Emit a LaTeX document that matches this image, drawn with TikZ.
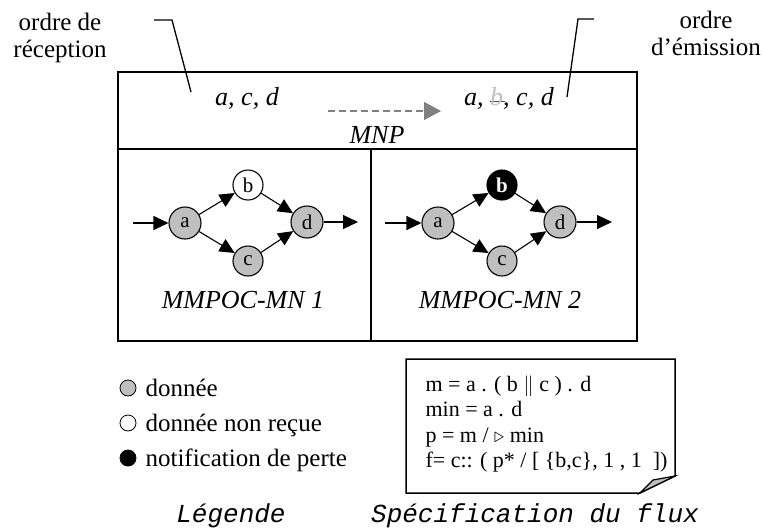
\documentclass[tikz,border=0pt]{standalone}
\usepackage{fontspec}
\setmainfont{Liberation Serif}
\setmonofont{Liberation Mono}
\usepackage{xcolor}
\usepackage{tikz}
\usetikzlibrary{
    arrows.meta,
    positioning
}

\newcommand{\lostb}{%
    \rlap{\textcolor{black!70}{\rule[0.3ex]{0.55em}{0.8pt}}}%
    \textcolor{gray!50}{b}}

\begin{document}
\begin{tikzpicture}[
    x=1pt,
    y=-1pt,
    >={Triangle[length=15pt,width=14pt]},
    line width=1.1pt,
    place/.style={
        circle,
        draw=black,
        fill=black!25,
        inner sep=0pt,
        minimum size=32pt,
        font=\fontsize{21}{21}\selectfont
    },
    legdot/.style={
        circle,
        draw=black,
        line width=0.8pt,
        inner sep=0pt,
        minimum size=16pt
    },
    bigtext/.style={
        font=\fontsize{25}{27}\selectfont,
        align=center,
        inner sep=0pt
    },
    seqtext/.style={
        font=\fontsize{26}{28}\selectfont\itshape,
        inner sep=0pt
    },
    captext/.style={
        font=\fontsize{26}{28}\ttfamily\itshape,
        inner sep=0pt
    },
    spectext/.style={
        font=\fontsize{22}{25.5}\selectfont,
        align=left,
        inner sep=0pt
    },
    frame/.style={
        line width=1.5pt
    }
]

\useasboundingbox (0,0) rectangle (764,528);

% ============================================================
% TOP LABELS
% ============================================================

\node[bigtext, anchor=north] (rcvlab) at (60,13) {ordre de\\réception};
\node[bigtext, anchor=north] (emilab) at (706,11) {ordre\\d'émission};

\coordinate (rl1) at (154,20);
\coordinate (rl2) at (172,20);
\coordinate (rl3) at (191,92);
\draw[line width=1.3pt] (rl1) -- (rl2) -- (rl3);

\coordinate (el1) at (594,19);
\coordinate (el2) at (578,19);
\coordinate (el3) at (567,97);
\draw[line width=1.3pt] (el1) -- (el2) -- (el3);

% ============================================================
% MNP BOX
% ============================================================

\draw[frame] (118,72) rectangle (637,341);
\draw[frame] (118,149) -- (637,149);
\draw[frame] (371,149) -- (371,341);

\node[seqtext, anchor=base] (recv) at (247,105) {a, c, d};
\node[seqtext, anchor=base] (emit) at (509,105) {a, \lostb, c, d};

\coordinate (mv1) at (328,111);
\coordinate (mv2) at (441,111);
\draw[
    ->,
    >={Triangle[length=17pt,width=18pt]},
    black!50,
    line width=1.4pt,
    dash pattern=on 7pt off 4pt
]
    (mv1) -- (mv2);

\node[seqtext, anchor=base] (mnp) at (377,143) {MNP};

% ============================================================
% MMPOC-MN 1
% ============================================================

\node[place] (a1) at (185,223) {a};
\node[place, fill=white, minimum size=30pt] (b1) at (248,185) {b};
\node[place, minimum size=30pt] (c1) at (248,261) {c};
\node[place] (d1) at (307,222) {d};

\coordinate (in1) at (133,223);
\coordinate (out1) at (358,222);

\draw[->] (in1) -- (a1);
\draw[->] (a1) -- (b1);
\draw[->] (a1) -- (c1);
\draw[->] (b1) -- (d1);
\draw[->] (c1) -- (d1);
\draw[->] (d1) -- (out1);

\node[seqtext, anchor=base] (mn1) at (243,308) {MMPOC-MN 1};

% ============================================================
% MMPOC-MN 2
% ============================================================

\node[place] (a2) at (438,223) {a};
\node[
    place,
    fill=black,
    text=white,
    minimum size=30pt,
    font=\fontsize{21}{21}\selectfont\bfseries
] (b2) at (502,185) {b};
\node[place, minimum size=30pt] (c2) at (502,261) {c};
\node[place] (d2) at (560,222) {d};

\coordinate (in2) at (385,223);
\coordinate (out2) at (612,222);

\draw[->] (in2) -- (a2);
\draw[->] (a2) -- (b2);
\draw[->] (a2) -- (c2);
\draw[->] (b2) -- (d2);
\draw[->] (c2) -- (d2);
\draw[->] (d2) -- (out2);

\node[seqtext, anchor=base] (mn2) at (500,308) {MMPOC-MN 2};

% ============================================================
% LEGEND
% ============================================================

\node[legdot, fill=black!25] (k1) at (128,388) {};
\node[legdot, fill=white] (k2) at (128,423) {};
\node[legdot, fill=black] (k3) at (128,458) {};

\node[bigtext, anchor=base west] (k1lab) at (145,396) {donnée};
\node[bigtext, anchor=base west] (k2lab) at (145,431) {donnée non reçue};
\node[bigtext, anchor=base west] (k3lab) at (145,466) {notification de perte};

\node[captext, anchor=base] (legcap) at (231,522) {Légende};

% ============================================================
% FLOW SPECIFICATION
% ============================================================

\draw[line width=1.5pt, fill=white]
    (406,359) -- (675,359) -- (675,476) -- (640,493) -- (406,493) -- cycle;
\draw[line width=1.2pt, fill=black!25]
    (640,493) -- (653,480) -- (675,476) -- cycle;

\node[spectext, anchor=north west] (spec) at (425,375)
{
m = a . ( b $\|$ c ) . d\\
min = a . d\\
p = m / $\triangleright$ min\\
f= c:: ( p* / [ \{b,c\}, 1 , 1~~])
};

\node[captext, anchor=base] (speccap) at (535,522) {Spécification du flux};

\end{tikzpicture}
\end{document}
